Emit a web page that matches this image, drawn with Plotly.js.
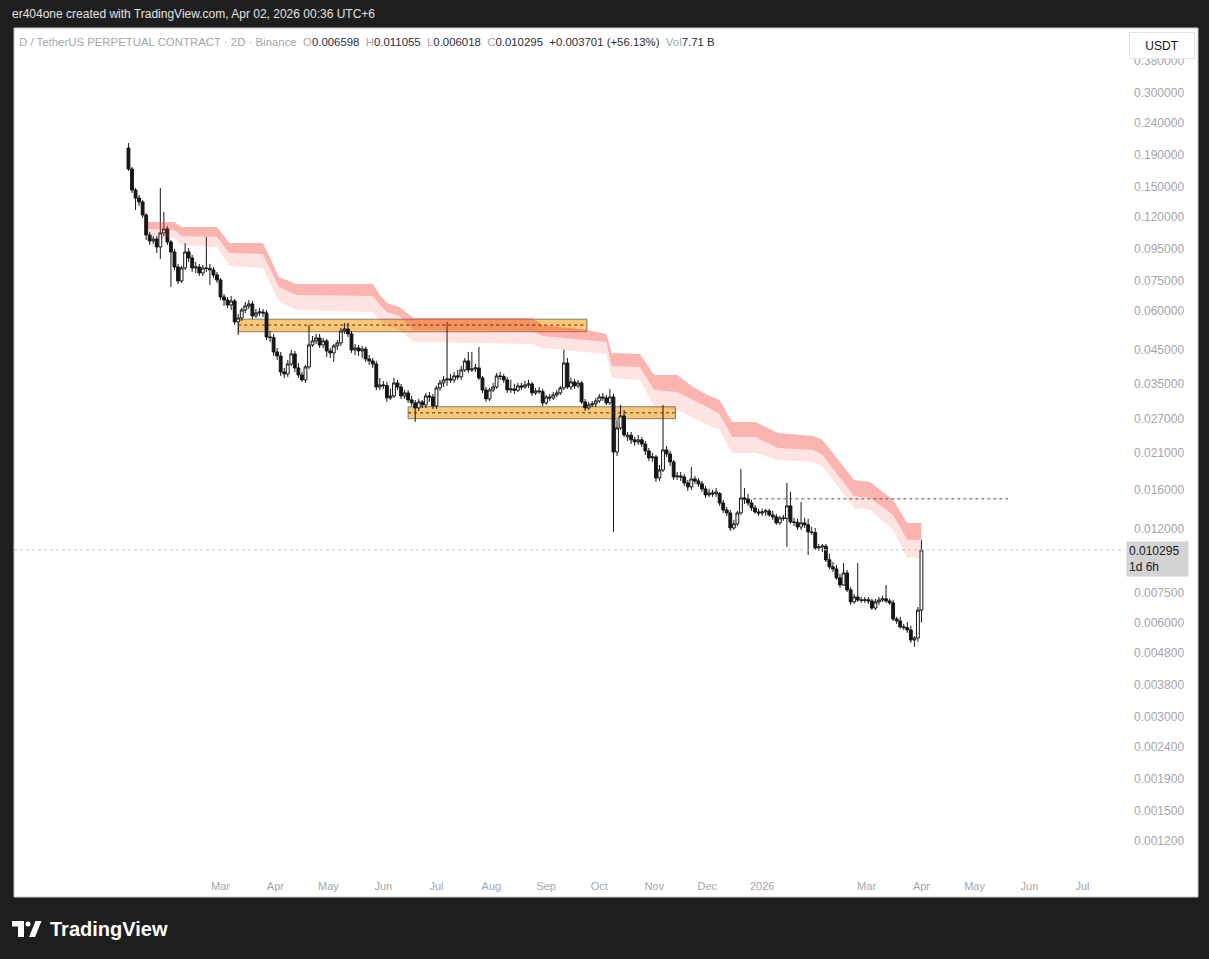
<!DOCTYPE html>
<html>
<head>
<meta charset="utf-8">
<script src="https://cdn.plot.ly/plotly-3.0.1.min.js"></script>
<style>
  html, body { margin: 0; padding: 0; background: #1e1e1e; }
  #chart { width: 1209px; height: 959px; }
</style>
</head>
<body>
<div id="chart"></div>
<script>
// ---------- DATA ----------
const startDate = '2025-01-08';   // first 2D bar
const opens = [0.1999,0.1712,0.1466,0.1382,0.1342,0.1219,0.1052,0.1006,0.1021,0.09628,
0.1068,0.1100,0.0999,0.09279,0.08307,0.07492,0.08246,0.09279,0.08877,0.08246,
0.08307,0.07947,0.08246,0.0822,0.08125,0.07831,0.07547,0.06657,0.06511,0.06276,
0.06464,0.05536,0.05701,0.06048,0.06229,0.06322,0.05786,0.05916,0.0596,0.05916,
0.04955,0.0493,0.04437,0.04307,0.03827,0.03771,0.0406,0.04372,0.03942,0.03743,
0.03608,0.03971,0.04671,0.04812,0.04919,0.04671,0.04812,0.0447,0.04404,0.04637,
0.04741,0.0518,0.05257,0.05066,0.04502,0.04569,0.0447,0.04535,0.04213,0.04151,
0.0406,0.03426,0.03477,0.0346,0.03159,0.03206,0.03529,0.03426,0.03206,0.03278,
0.03113,0.03045,0.02934,0.03067,0.03,0.03206,0.03182,0.02978,0.03401,0.03529,
0.03608,0.03635,0.03608,0.03717,0.03689,0.03884,0.04151,0.03884,0.03913,0.03942,
0.03662,0.03351,0.03136,0.03351,0.03426,0.03717,0.037,0.03608,0.03351,0.03376,
0.0334,0.03452,0.03426,0.03477,0.03503,0.03278,0.03327,0.0331,0.03045,0.03182,
0.03159,0.0323,0.03278,0.03401,0.0409,0.03426,0.03555,0.03452,0.03529,0.03067,
0.02934,0.03,0.03023,0.0309,0.03182,0.03159,0.03045,0.03182,0.0212,0.02532,
0.02767,0.0237,0.024,0.02318,0.02283,0.02318,0.02249,0.02136,0.02029,0.02044,
0.0175,0.01856,0.02152,0.0209,0.0197,0.01763,0.01776,0.01763,0.01687,0.01638,
0.01737,0.01712,0.01675,0.01614,0.01544,0.01567,0.01556,0.0156,0.01455,0.01382,
0.01352,0.0121,0.01247,0.01352,0.0151,0.01499,0.01455,0.01403,0.01362,0.0135,
0.01362,0.01372,0.01332,0.01313,0.01256,0.01303,0.01298,0.01424,0.01265,0.01262,
0.01219,0.01256,0.01238,0.01175,0.0117,0.01044,0.01052,0.01058,0.00956,0.00908,
0.00894,0.00837,0.00794,0.00868,0.00766,0.00701,0.00727,0.00711,0.00709,0.00712,
0.00706,0.0067,0.00701,0.00711,0.00717,0.00706,0.00696,0.00618,0.00609,0.00583,
0.0058,0.0057,0.00529,0.00537,0.006598];
const closes = [0.1712,0.1466,0.1382,0.1342,0.1219,0.1052,0.1006,0.1021,0.09628,0.1068,
0.1100,0.0999,0.09279,0.08307,0.07492,0.08246,0.09279,0.08877,0.08246,0.08307,
0.07947,0.08246,0.0822,0.08125,0.07831,0.07547,0.06657,0.06511,0.06276,0.06464,
0.05536,0.05701,0.06048,0.06229,0.06322,0.05786,0.05916,0.0596,0.05916,0.04955,
0.0493,0.04437,0.04307,0.03827,0.03771,0.0406,0.04372,0.03942,0.03743,0.03608,
0.03971,0.04671,0.04812,0.04919,0.04671,0.04812,0.0447,0.04404,0.04637,0.04741,
0.0518,0.05257,0.05066,0.04502,0.04569,0.0447,0.04535,0.04213,0.04151,0.0406,
0.03426,0.03477,0.0346,0.03159,0.03206,0.03529,0.03426,0.03206,0.03278,0.03113,
0.03045,0.02934,0.03067,0.03,0.03206,0.03182,0.02978,0.03401,0.03529,0.03608,
0.03635,0.03608,0.03717,0.03689,0.03884,0.04151,0.03884,0.03913,0.03942,0.03662,
0.03351,0.03136,0.03351,0.03426,0.03717,0.037,0.03608,0.03351,0.03376,0.0334,
0.03452,0.03426,0.03477,0.03503,0.03278,0.03327,0.0331,0.03045,0.03182,0.03159,
0.0323,0.03278,0.03401,0.0409,0.03426,0.03555,0.03452,0.03529,0.03067,0.02934,
0.03,0.03023,0.0309,0.03182,0.03159,0.03045,0.03182,0.0212,0.02532,0.02767,
0.02404,0.024,0.02318,0.02283,0.02318,0.02249,0.02136,0.02029,0.02044,0.0175,
0.01856,0.02152,0.0209,0.0197,0.01763,0.01776,0.01763,0.01687,0.01638,0.01737,
0.01712,0.01675,0.01614,0.01544,0.01567,0.01556,0.01579,0.01455,0.01382,0.01352,
0.0121,0.01247,0.01352,0.0151,0.01499,0.01455,0.01403,0.01362,0.0135,0.01362,
0.01372,0.01332,0.01313,0.01256,0.01303,0.01298,0.01424,0.01265,0.01262,0.01219,
0.01256,0.01238,0.01175,0.0117,0.01044,0.01052,0.01058,0.00956,0.00908,0.00894,
0.00837,0.00794,0.00868,0.00766,0.00701,0.00727,0.00711,0.00709,0.00712,0.00706,
0.0067,0.00701,0.00711,0.00717,0.00706,0.00696,0.00618,0.00609,0.00583,0.0058,
0.0057,0.00529,0.00537,0.006598,0.010295];
const highs = [0.2074,0.1738,0.1488,0.1413,0.1362,0.1237,0.1076,0.1044,0.1044,0.1488,
0.1247,0.1124,0.1014,0.09487,0.08493,0.08369,0.09917,0.09557,0.09076,0.08619,
0.08493,0.08431,0.1037,0.08493,0.08307,0.08006,0.07659,0.06807,0.06657,0.06706,
0.06559,0.05872,0.06138,0.06416,0.06511,0.06464,0.06093,0.06138,0.06093,0.06048,
0.0518,0.05066,0.04569,0.04437,0.03942,0.04182,0.04502,0.0447,0.0409,0.03827,
0.0403,0.05414,0.04992,0.05066,0.05066,0.04919,0.04883,0.04569,0.04706,0.04847,
0.05296,0.05495,0.05495,0.0518,0.04706,0.04671,0.04637,0.04603,0.04339,0.04244,
0.04151,0.03662,0.03581,0.03555,0.03376,0.03662,0.03608,0.03503,0.03351,0.03351,
0.03206,0.03113,0.03136,0.03113,0.03278,0.03302,0.03254,0.03452,0.03608,0.03717,
0.05536,0.03771,0.03827,0.03884,0.04001,0.04244,0.04437,0.04437,0.0406,0.04603,
0.03717,0.03426,0.03401,0.03529,0.03799,0.03827,0.03771,0.03689,0.03608,0.03503,
0.03529,0.03529,0.03581,0.03608,0.03555,0.03401,0.03426,0.03376,0.0323,0.03254,
0.03302,0.03351,0.03452,0.04502,0.04244,0.03662,0.03635,0.03608,0.03581,0.03136,
0.03067,0.0309,0.03159,0.03254,0.03278,0.0323,0.03376,0.03254,0.02686,0.03,
0.02891,0.02458,0.02458,0.02369,0.02404,0.02369,0.023,0.02184,0.02105,0.02074,
0.01926,0.03,0.02217,0.02136,0.01999,0.01829,0.01829,0.01803,0.01724,0.01898,
0.01776,0.0175,0.01712,0.0165,0.01614,0.01602,0.01626,0.01579,0.01488,0.01413,
0.01382,0.01284,0.01372,0.0187,0.01626,0.01556,0.01488,0.01434,0.01393,0.01393,
0.01393,0.01393,0.01372,0.01342,0.01322,0.01332,0.01687,0.01579,0.01303,0.01294,
0.01466,0.01303,0.01294,0.01219,0.0121,0.01075,0.01075,0.01075,0.00999,0.00941,
0.0092,0.00862,0.00934,0.00888,0.00783,0.00743,0.00934,0.00727,0.00727,0.00727,
0.00717,0.00717,0.00727,0.00733,0.00794,0.00717,0.00711,0.00628,0.00628,0.00596,
0.00604,0.00588,0.00545,0.00675,0.011055];
const lows = [0.1687,0.1434,0.1265,0.1303,0.1193,0.1014,0.0977,0.09844,0.09211,0.08812,
0.1044,0.0977,0.07167,0.08125,0.07328,0.07382,0.08125,0.08619,0.08006,0.07947,
0.07773,0.07773,0.08006,0.07274,0.07659,0.07382,0.06511,0.06229,0.06138,0.06048,
0.05414,0.05029,0.05577,0.05916,0.06093,0.05659,0.05701,0.05786,0.05743,0.04847,
0.04776,0.04307,0.04182,0.03717,0.03662,0.03689,0.04001,0.03827,0.03662,0.03555,
0.03529,0.03913,0.04603,0.04706,0.04569,0.04569,0.04275,0.04244,0.0412,0.04502,
0.04637,0.05066,0.04955,0.04404,0.04339,0.04307,0.04244,0.0412,0.0403,0.03942,
0.03351,0.03351,0.03376,0.03067,0.03113,0.03159,0.03351,0.03136,0.03136,0.03045,
0.02978,0.02646,0.0287,0.02934,0.02934,0.03067,0.02912,0.02912,0.03327,0.03426,
0.03452,0.03529,0.03529,0.03608,0.03608,0.03827,0.03799,0.03827,0.03827,0.03608,
0.03278,0.03067,0.0309,0.03302,0.03376,0.03608,0.03529,0.03278,0.03278,0.03254,
0.03302,0.03351,0.03376,0.03401,0.03206,0.0323,0.03254,0.02978,0.03,0.0309,
0.03113,0.03182,0.0323,0.03351,0.03376,0.03351,0.03376,0.03401,0.03023,0.0287,
0.02891,0.02956,0.02956,0.03045,0.0309,0.03,0.03,0.01175,0.02059,0.02495,
0.02369,0.023,0.02249,0.02217,0.02233,0.022,0.02074,0.01984,0.0197,0.017,
0.01712,0.01829,0.02044,0.01912,0.01724,0.01724,0.01712,0.0165,0.0159,0.01602,
0.01675,0.01638,0.01579,0.0151,0.01521,0.01521,0.01521,0.01424,0.01352,0.01322,
0.01183,0.01192,0.01228,0.01332,0.01444,0.01424,0.01372,0.01342,0.01322,0.01322,
0.01322,0.01313,0.01284,0.01238,0.01238,0.01275,0.01052,0.01247,0.01228,0.01192,
0.01192,0.0121,0.00991,0.01149,0.01029,0.01021,0.01013,0.00941,0.00894,0.00874,
0.00825,0.00777,0.00789,0.00755,0.00686,0.00691,0.00701,0.00696,0.00696,0.00691,
0.0066,0.0066,0.00686,0.00701,0.00696,0.00686,0.00609,0.00596,0.00575,0.0057,
0.00558,0.00518,0.00503,0.00522,0.006018];

// trailing cloud (upper dark band: top->mid, lower light band: mid->bottom)
const bandDates = ['2025-01-19','2025-02-03','2025-02-07','2025-02-27','2025-03-06','2025-03-25','2025-04-03','2025-04-13','2025-05-26','2025-05-30','2025-06-03','2025-06-10','2025-06-18','2025-08-24','2025-08-30','2025-09-24','2025-10-05','2025-10-08','2025-10-24','2025-11-01','2025-11-14','2025-11-23','2025-12-01','2025-12-08','2025-12-15','2025-12-28','2026-01-10','2026-01-30','2026-02-04','2026-02-22','2026-03-03','2026-03-16','2026-03-24','2026-04-01'];
const bandTop = [0.1158,0.1158,0.1116,0.1116,0.09917,0.09917,0.07716,0.07328,0.07328,0.06757,0.06369,0.06183,0.05701,0.05701,0.05414,0.05218,0.05066,0.04404,0.04372,0.03743,0.03743,0.03426,0.0323,0.03113,0.02646,0.02646,0.0244,0.02387,0.02318,0.01724,0.017,0.01488,0.01256,0.01256];
const bandMid = [0.11,0.1091,0.1044,0.1037,0.09211,0.09143,0.07167,0.06757,0.06706,0.06276,0.0596,0.05786,0.05218,0.0518,0.04992,0.04847,0.04776,0.04001,0.03971,0.03351,0.03302,0.03113,0.02956,0.02807,0.02369,0.02369,0.02184,0.02152,0.02074,0.01532,0.0151,0.01332,0.01108,0.01108];
const bandBot = [0.1044,0.1029,0.0977,0.09628,0.08369,0.08246,0.06416,0.06048,0.0596,0.05617,0.05375,0.05218,0.04776,0.04706,0.04569,0.04437,0.04372,0.03662,0.03608,0.02956,0.02891,0.02726,0.02589,0.02495,0.02105,0.02105,0.01999,0.0197,0.01912,0.01403,0.01382,0.01192,0.0097,0.0097];

// supply / demand zones
const zoneStart = ['2025-03-11', '2025-06-15'];
const zoneEnd   = ['2025-09-24', '2025-11-13'];
const zoneTop   = [0.0565, 0.0296];
const zoneBot   = [0.0515, 0.0271];
const zoneMid   = [0.0541, 0.0283];

// horizontal level and last price
const levelStart = '2025-12-27', levelEnd = '2026-05-20', levelPrice = 0.0150;
const lastPrice = 0.010295;

// axis ticks
const xTickVals = ['2025-03-01','2025-04-01','2025-05-01','2025-06-01','2025-07-01','2025-08-01','2025-09-01','2025-10-01','2025-11-01','2025-12-01','2026-01-01','2026-03-01','2026-04-01','2026-05-01','2026-06-01','2026-07-01'];
const xTickText = ['Mar','Apr','May','Jun','Jul','Aug','Sep','Oct','Nov','Dec','2026','Mar','Apr','May','Jun','Jul'];
const yTickVals = [0.38,0.3,0.24,0.19,0.15,0.12,0.095,0.075,0.06,0.045,0.035,0.027,0.021,0.016,0.012,0.0075,0.006,0.0048,0.0038,0.003,0.0024,0.0019,0.0015,0.0012];
const yTickText = ['0.380000','0.300000','0.240000','0.190000','0.150000','0.120000','0.095000','0.075000','0.060000','0.045000','0.035000','0.027000','0.021000','0.016000','0.012000','0.007500','0.006000','0.004800','0.003800','0.003000','0.002400','0.001900','0.001500','0.001200'];

// ---------- BUILD ----------
const dates = [];
{
  const d0 = new Date(startDate + 'T00:00:00Z');
  for (let i = 0; i < closes.length; i++) {
    const d = new Date(d0.getTime() + i * 2 * 86400000);
    dates.push(d.toISOString().slice(0, 10));
  }
}

const W = 1209, H = 959;
const M = {l: 14, r: 84, t: 28, b: 87};
const PW = W - M.l - M.r, PH = H - M.t - M.b;
const px = x => (x - M.l) / PW;
const py = y => 1 - (y - M.t) / PH;
const FONT = 'Liberation Sans, Arial, sans-serif';

const traces = [
  {type: 'scatter', x: bandDates, y: bandTop, mode: 'lines', line: {width: 0, color: 'rgba(0,0,0,0)'}, hoverinfo: 'skip', showlegend: false},
  {type: 'scatter', x: bandDates, y: bandMid, mode: 'lines', line: {width: 0, color: 'rgba(0,0,0,0)'}, fill: 'tonexty', fillcolor: 'rgba(244,67,54,0.40)', hoverinfo: 'skip', showlegend: false},
  {type: 'scatter', x: bandDates, y: bandBot, mode: 'lines', line: {width: 0, color: 'rgba(0,0,0,0)'}, fill: 'tonexty', fillcolor: 'rgba(244,67,54,0.15)', hoverinfo: 'skip', showlegend: false},
  {type: 'candlestick', x: dates, open: opens, high: highs, low: lows, close: closes,
   increasing: {line: {color: '#161616', width: 1}, fillcolor: '#ffffff'},
   decreasing: {line: {color: '#161616', width: 1}, fillcolor: '#161616'},
   whiskerwidth: 0, hoverinfo: 'skip', showlegend: false}
];

const shapes = [
  // white chart frame
  {type: 'rect', xref: 'paper', yref: 'paper', x0: px(14), x1: px(1198), y0: py(897), y1: py(28),
   fillcolor: '#ffffff', line: {color: '#c8c8c8', width: 1}, layer: 'below'}
];
for (let k = 0; k < zoneStart.length; k++) {
  shapes.push({type: 'rect', xref: 'x', yref: 'y', x0: zoneStart[k], x1: zoneEnd[k], y0: zoneBot[k], y1: zoneTop[k],
    fillcolor: 'rgba(255,152,0,0.55)', line: {color: '#7d7d7d', width: 1}, layer: 'below'});
  shapes.push({type: 'line', xref: 'x', yref: 'y', x0: zoneStart[k], x1: zoneEnd[k], y0: zoneMid[k], y1: zoneMid[k],
    line: {color: '#333333', width: 1, dash: 'dot'}, layer: 'above'});
}
shapes.push({type: 'line', xref: 'x', yref: 'y', x0: levelStart, x1: levelEnd, y0: levelPrice, y1: levelPrice,
  line: {color: '#555555', width: 1, dash: 'dot'}});
shapes.push({type: 'line', xref: 'paper', yref: 'y', x0: 0, x1: 1, y0: lastPrice, y1: lastPrice,
  line: {color: '#c4c4c4', width: 1, dash: 'dot'}});
// TradingView logo glyph
const P = (x, y) => px(x) + ',' + py(y);
shapes.push({type: 'path', xref: 'paper', yref: 'paper',
  path: 'M' + P(12, 921) + 'L' + P(24, 921) + 'L' + P(24, 937) + 'L' + P(18, 937) + 'L' + P(18, 926.5) + 'L' + P(12, 926.5) + 'Z',
  fillcolor: '#ffffff', line: {width: 0}});
shapes.push({type: 'circle', xref: 'paper', yref: 'paper', x0: px(25.5), x1: px(30.5), y0: py(926.5), y1: py(921.5),
  fillcolor: '#ffffff', line: {width: 0}});
shapes.push({type: 'path', xref: 'paper', yref: 'paper',
  path: 'M' + P(29, 937) + 'L' + P(35, 937) + 'L' + P(41.5, 921) + 'L' + P(35.5, 921) + 'Z',
  fillcolor: '#ffffff', line: {width: 0}});

const G = 'color:#a3a6ae', D = 'color:#2a2e39';
const nb = '\u00a0';
const legendText =
  '<span style="' + G + '">D / TetherUS PERPETUAL CONTRACT · 2D · Binance</span>' + nb + nb +
  '<span style="' + G + '">O</span><span style="' + D + '">0.006598</span>' + nb + nb +
  '<span style="' + G + '">H</span><span style="' + D + '">0.011055</span>' + nb + nb +
  '<span style="' + G + '">L</span><span style="' + D + '">0.006018</span>' + nb + nb +
  '<span style="' + G + '">C</span><span style="' + D + '">0.010295</span>' + nb + nb +
  '<span style="' + D + '">+0.003701 (+56.13%)</span>' + nb + nb +
  '<span style="' + G + '">Vol</span><span style="' + D + '">7.71' + nb + 'B</span>';

const annotations = [
  {xref: 'paper', yref: 'paper', x: px(10), y: py(14), xanchor: 'left', yanchor: 'middle', showarrow: false,
   text: 'er404one created with TradingView.com, Apr 02, 2026 00:36 UTC+6', font: {family: FONT, size: 12, color: '#e3e3e3'}},
  {xref: 'paper', yref: 'paper', x: px(17), y: py(42), xanchor: 'left', yanchor: 'middle', showarrow: false,
   text: legendText, font: {family: FONT, size: 11.4, color: '#2a2e39'}},
  {xref: 'paper', yref: 'paper', x: px(1161.5), y: py(45), xanchor: 'center', yanchor: 'middle', showarrow: false,
   text: 'USDT', font: {family: FONT, size: 12, color: '#131722'}, bgcolor: '#ffffff', bordercolor: '#e0e3eb', borderwidth: 1,
   width: 62, height: 23, borderpad: 1},
  {xref: 'paper', yref: 'y', x: 1, y: Math.log10(lastPrice), xanchor: 'left', yanchor: 'top', yshift: 9, xshift: 1, showarrow: false,
   text: '0.010295<br>1d 6h', align: 'left', font: {family: FONT, size: 12, color: '#131722'},
   bgcolor: '#d4d4d4', width: 57, borderpad: 2},
  {xref: 'paper', yref: 'paper', x: px(48), y: py(929), xanchor: 'left', yanchor: 'middle', showarrow: false,
   text: '<b>TradingView</b>', font: {family: FONT, size: 20, color: '#ffffff'}}
];

const layout = {
  width: W, height: H,
  margin: {l: M.l, r: M.r, t: M.t, b: M.b, pad: 0},
  paper_bgcolor: '#1e1e1e',
  plot_bgcolor: '#ffffff',
  showlegend: false,
  boxgap: 0.2, boxgroupgap: 0,
  font: {family: FONT},
  xaxis: {
    type: 'date', range: ['2024-11-04 08:00', '2026-07-25'],
    tickmode: 'array', tickvals: xTickVals, ticktext: xTickText,
    showgrid: false, zeroline: false, showline: false, ticks: '',
    tickfont: {family: FONT, size: 11, color: '#a3a6ae'},
    ticklabelstandoff: 6,
    rangeslider: {visible: false}, fixedrange: true
  },
  yaxis: {
    type: 'log', side: 'right', range: [-3.0202, -0.3145],
    tickmode: 'array', tickvals: yTickVals, ticktext: yTickText,
    showgrid: false, zeroline: false, showline: false, ticks: '',
    tickfont: {family: FONT, size: 12, color: '#a3a6ae'},
    ticklabelstandoff: 8, fixedrange: true
  },
  shapes: shapes,
  annotations: annotations
};

Plotly.newPlot('chart', traces, layout, {staticPlot: true, displayModeBar: false});
</script>
</body>
</html>
